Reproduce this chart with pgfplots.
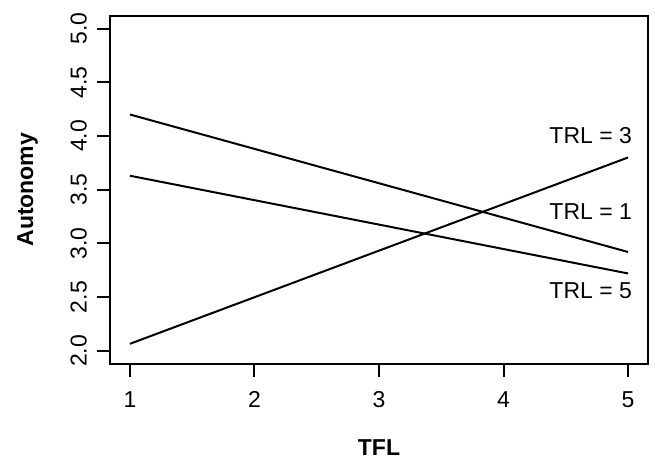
\documentclass[border=0pt]{standalone}
\usepackage{fontspec}
\setmainfont{Liberation Sans}
\usepackage{pgfplots}
\pgfplotsset{compat=1.18}
\begin{document}
\begin{tikzpicture}
\begin{axis}[
  scale only axis,
  width=269pt, height=174pt,
  xmin=0.84, xmax=5.16,
  ymin=1.88, ymax=5.12,
  xtick={1,2,3,4,5},
  ytick={2,2.5,3,3.5,4,4.5,5},
  /pgf/number format/assume math mode=true,
  tick align=outside,
  major tick length=6.5pt,
  tick style={black, line width=1pt},
  axis line style={line width=1pt},
  axis x line*=bottom, axis y line*=left,
  every axis/.append style={font=\fontsize{11.5}{13.8}\selectfont},
  tick label style={font=\fontsize{11.5}{13.8}\selectfont},
  yticklabel style={/pgf/number format/fixed, /pgf/number format/fixed zerofill, /pgf/number format/precision=1, /tikz/rotate=90, /tikz/anchor=south},
  xticklabel style={anchor=north},
  xticklabel shift=4pt,
  yticklabel shift=1.5pt,
  xlabel={TFL}, ylabel={Autonomy},
  label style={font=\fontsize{11.5}{13.8}\selectfont\bfseries},
  xlabel style={at={(axis description cs:0.5,-0.2624)}, anchor=base},
  ylabel style={at={(axis description cs:-0.1431,0.5)}, anchor=base},
  clip=false,
]
\addplot[black, line width=1pt] coordinates {(1,4.20) (5,2.92)};
\addplot[black, line width=1pt] coordinates {(1,3.63) (5,2.72)};
\addplot[black, line width=1pt] coordinates {(1,2.065) (5,3.80)};
\node[font=\fontsize{11.5}{13.8}\selectfont] at (axis cs:4.7,4.0) {TRL = 3};
\node[font=\fontsize{11.5}{13.8}\selectfont] at (axis cs:4.7,3.30) {TRL = 1};
\node[font=\fontsize{11.5}{13.8}\selectfont] at (axis cs:4.7,2.56) {TRL = 5};
\end{axis}
\draw[line width=1pt] (current axis.south west) rectangle (current axis.north east);
\pgfresetboundingbox
\useasboundingbox ([shift={(-55pt,-47pt)}]current axis.south west) rectangle ([shift={(3.5pt,7.85pt)}]current axis.north east);
\end{tikzpicture}
\end{document}
